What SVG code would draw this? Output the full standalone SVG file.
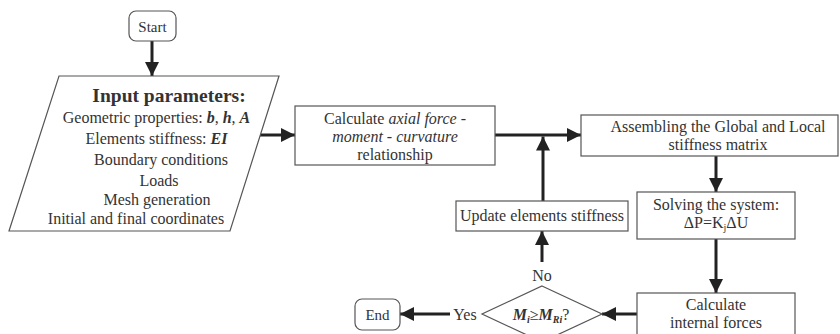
<svg xmlns="http://www.w3.org/2000/svg" width="840" height="334" viewBox="0 0 840 334">
  <style>
    .box { fill: #fff; stroke: #555; stroke-width: 1.2; }
    .t { font-family: "Liberation Serif", "Times New Roman", serif; font-size: 16px; fill: #333; text-anchor: middle; }
    .title { font-size: 19.5px; font-weight: bold; }
    .b { font-weight: bold; font-style: italic; }
    .i { font-style: italic; }
    .wire { fill: none; stroke: #222; stroke-width: 3; }
  </style>
  <defs>
    <marker id="arrow" markerUnits="userSpaceOnUse" markerWidth="14" markerHeight="14" refX="14" refY="7" orient="auto">
      <path d="M0,0 L14,7 L0,14 z" fill="#222"/>
    </marker>
  </defs>

  <rect width="840" height="334" fill="#fff"/>

  <g id="connectors">
    <line class="wire" x1="152" y1="41" x2="152" y2="76" marker-end="url(#arrow)"/>
    <line class="wire" x1="260" y1="135" x2="295" y2="135" marker-end="url(#arrow)"/>
    <line class="wire" x1="495" y1="135" x2="581" y2="135" marker-end="url(#arrow)"/>
    <line class="wire" x1="543" y1="201" x2="543" y2="136.5" marker-end="url(#arrow)"/>
    <line class="wire" x1="716" y1="156" x2="716" y2="192" marker-end="url(#arrow)"/>
    <line class="wire" x1="716" y1="239" x2="716" y2="293" marker-end="url(#arrow)"/>
    <line class="wire" x1="637" y1="314" x2="602" y2="314" marker-end="url(#arrow)"/>
    <line class="wire" x1="542" y1="262" x2="542" y2="231" marker-end="url(#arrow)"/>
    <line class="wire" x1="450" y1="314" x2="400" y2="314" marker-end="url(#arrow)"/>
  </g>

  <g id="start">
    <rect class="box" x="129" y="11" width="47" height="30" rx="7"/>
    <text class="t" x="152.5" y="32" style="font-size:15px">Start</text>
  </g>

  <g id="input">
    <polygon class="box" points="59,76 279,76 230,231 9,231"/>
    <text class="t title" x="169" y="102">Input parameters:</text>
    <text class="t" x="156.5" y="123">Geometric properties: <tspan class="b">b</tspan>, <tspan class="b">h</tspan>, <tspan class="b">A</tspan></text>
    <text class="t" x="156.5" y="144">Elements stiffness: <tspan class="b">EI</tspan></text>
    <text class="t" x="161" y="165">Boundary conditions</text>
    <text class="t" x="159" y="186">Loads</text>
    <text class="t" x="157" y="205">Mesh generation</text>
    <text class="t" x="136" y="224">Initial and final coordinates</text>
  </g>

  <g id="relationship">
    <rect class="box" x="295" y="106" width="200" height="59"/>
    <text class="t" x="395" y="124">Calculate <tspan class="i">axial force -</tspan></text>
    <text class="t i" x="395" y="142">moment - curvature</text>
    <text class="t" x="395" y="160">relationship</text>
  </g>

  <g id="assembly">
    <rect class="box" x="581" y="115" width="257" height="41"/>
    <text class="t" x="718" y="132">Assembling the Global and Local</text>
    <text class="t" x="718" y="150">stiffness matrix</text>
  </g>

  <g id="update">
    <rect class="box" x="456" y="201" width="172" height="30"/>
    <text class="t" x="542" y="221">Update elements stiffness</text>
  </g>

  <g id="solve">
    <rect class="box" x="637" y="192" width="158" height="47"/>
    <text class="t" x="716" y="210">Solving the system:</text>
    <text class="t" x="716" y="228">ΔP=K<tspan dy="3" style="font-size:10px">j</tspan><tspan dy="-3">ΔU</tspan></text>
  </g>

  <g id="internal">
    <rect class="box" x="637" y="293" width="158" height="50"/>
    <text class="t" x="716" y="310">Calculate</text>
    <text class="t" x="716" y="328">internal forces</text>
  </g>

  <g id="check">
    <polygon class="box" points="542,286 602,314 542,342 482,314"/>
    <text class="t" x="541" y="320"><tspan class="b">M</tspan><tspan class="b" dy="3" style="font-size:10px">i</tspan><tspan dy="-3">≥</tspan><tspan class="b">M</tspan><tspan class="b" dy="3" style="font-size:10px">Ri</tspan><tspan dy="-3">?</tspan></text>
    <text class="t" x="542" y="281">No</text>
    <text class="t" x="465" y="320">Yes</text>
  </g>

  <g id="end">
    <rect class="box" x="355" y="299" width="45" height="31" rx="7"/>
    <text class="t" x="377.5" y="320" style="font-size:15px">End</text>
  </g>
</svg>
